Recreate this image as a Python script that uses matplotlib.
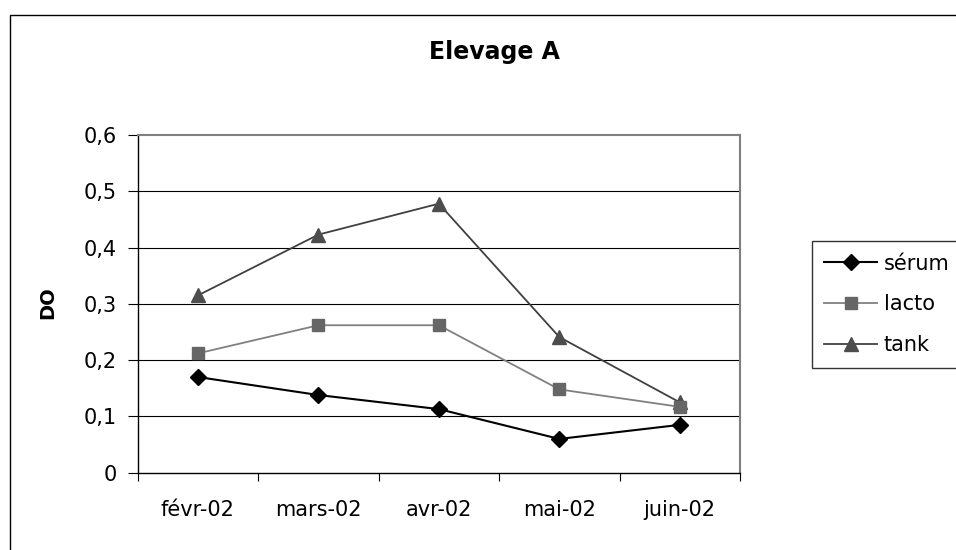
import matplotlib
matplotlib.use("Agg")
import matplotlib.pyplot as plt
from matplotlib.patches import Rectangle
from matplotlib.ticker import FixedLocator, FuncFormatter
import numpy as np

plt.rcParams['font.family'] = ['DejaVu Sans']

categories = ["févr-02", "mars-02", "avr-02", "mai-02", "juin-02"]
serum = [0.170, 0.138, 0.113, 0.060, 0.085]
lacto = [0.212, 0.262, 0.262, 0.148, 0.117]
tank = [0.315, 0.423, 0.478, 0.241, 0.125]
yticks = [0, 0.1, 0.2, 0.3, 0.4, 0.5, 0.6]

W, H = 956, 550
fig = plt.figure(figsize=(W / 100, H / 100), dpi=100)
fig.patch.set_facecolor("white")

l, r, t, b = 137.7, 740, 135, 472.7
ax = fig.add_axes([l / W, 1 - b / H, (r - l) / W, (b - t) / H])

x = np.arange(len(categories))
ax.plot(x, serum, color="#000000", lw=1.5, marker="D", ms=8.5, mfc="#000000", mec="#000000", label="sérum", zorder=5)
ax.plot(x, lacto, color="#808080", lw=1.3, marker="s", ms=9, mfc="#666666", mec="#666666", label="lacto", zorder=4)
ax.plot(x, tank, color="#404040", lw=1.3, marker="^", ms=10.5, mfc="#4d4d4d", mec="#4d4d4d", label="tank", zorder=3)

ax.set_xlim(-0.5, len(categories) - 0.5)
ax.set_ylim(0, 0.6)
ax.yaxis.set_major_locator(FixedLocator(yticks))
ax.yaxis.set_major_formatter(FuncFormatter(lambda v, p: ("%g" % round(v, 2)).replace(".", ",")))
for yv in yticks[1:-1]:
    ax.axhline(yv, color="black", lw=0.8, zorder=1)

ax.set_xticks(np.arange(-0.5, len(categories), 1.0))
ax.set_xticklabels([])
ax.set_xticks(x, minor=True)
ax.set_xticklabels(categories, minor=True)
ax.tick_params(axis="x", which="major", direction="out", length=6, width=0.8, color="black")
ax.tick_params(axis="x", which="minor", length=0, pad=20, labelsize=15)
ax.tick_params(axis="y", direction="out", length=7, width=0.8, pad=8, labelsize=15)

for s in ["left", "bottom"]:
    ax.spines[s].set_color("black")
    ax.spines[s].set_linewidth(1.0)
for s in ["top", "right"]:
    ax.spines[s].set_color("#808080")
    ax.spines[s].set_linewidth(1.5)

fig.text(494 / W, 1 - 52 / H, "Elevage A", ha="center", va="center", fontsize=17, fontweight="bold")
fig.text(48 / W, 1 - 303 / H, "DO", ha="center", va="center", rotation=90, fontsize=14, fontweight="bold")

leg = fig.legend(loc="upper left", bbox_to_anchor=(811.7 / W, 1 - 241 / H), borderaxespad=0,
                 frameon=True, fancybox=False, edgecolor="black", fontsize=15,
                 handlelength=2.55, handletextpad=0.32, labelspacing=1.0, borderpad=0.6)
leg.get_frame().set_linewidth(1.0)

fig.add_artist(Rectangle((10 / W, -0.1), 1.2, (1 - 15 / H) + 0.1, transform=fig.transFigure,
                         fill=False, edgecolor="black", lw=1.0, clip_on=False))

fig.savefig("out.png", dpi=100)
